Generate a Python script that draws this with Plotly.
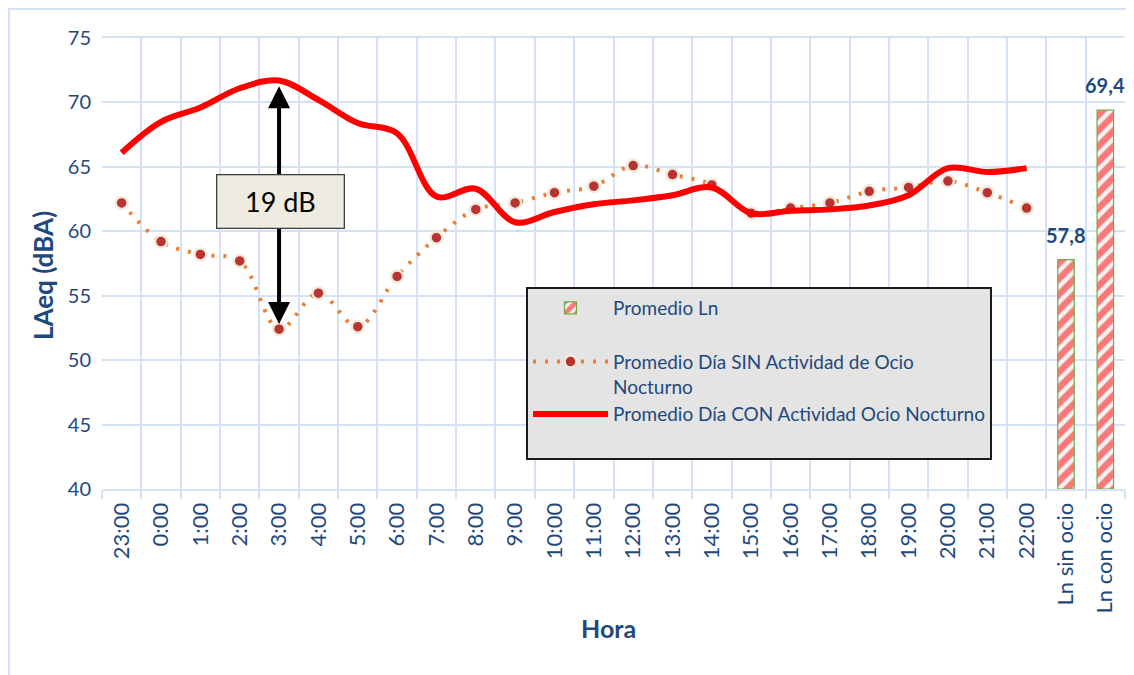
import plotly.graph_objects as go

hours = ["23:00", "0:00", "1:00", "2:00", "3:00", "4:00", "5:00", "6:00", "7:00", "8:00",
         "9:00", "10:00", "11:00", "12:00", "13:00", "14:00", "15:00", "16:00", "17:00",
         "18:00", "19:00", "20:00", "21:00", "22:00"]
ln_categories = ["Ln sin ocio", "Ln con ocio"]
ln_values = [57.8, 69.4]
sin_ocio = [62.2, 59.2, 58.2, 57.7, 52.4, 55.2, 52.6, 56.5, 59.5, 61.7, 62.2, 63.0,
            63.5, 65.1, 64.4, 63.6, 61.4, 61.8, 62.2, 63.1, 63.4, 63.9, 63.0, 61.8]
con_ocio = [66.1, 68.5, 69.6, 71.1, 71.7, 70.2, 68.4, 67.6, 62.7, 63.3, 60.7, 61.5,
            62.1, 62.4, 62.8, 63.4, 61.4, 61.6, 61.7, 62.0, 62.8, 64.9, 64.6, 64.9]
y_ticks = [40, 45, 50, 55, 60, 65, 70, 75]
diff_label = "19 dB"

DARK = "#1f497d"
GRID = "#d5e2f5"
FONT = "Lato"

all_cats = hours + ln_categories

# the page adds an 8 px body margin; size the figure so the plot area lands where it should
W, H = 1126, 667
ML, MR, MT, MB = 94, 9, 30, 186
PW = W - ML - MR
PH = H - MT - MB


def px_x(page_x):
    return (page_x - 8 - ML) / PW


def px_y(page_y):
    return (H - MB - (page_y - 8)) / PH


fig = go.Figure()

fig.add_trace(go.Bar(
    x=ln_categories, y=[v - 40 for v in ln_values], base=40,
    name="Promedio Ln", width=0.42,
    marker=dict(color="#f2f2f2",
                pattern=dict(shape="/", fgcolor="#ff0000", bgcolor="#f2f2f2",
                             size=11, solidity=0.6),
                line=dict(color="#70ad47", width=1.2)),
    legendgroup="a",
))

# value labels above the bars
for cat, val in zip(ln_categories, ln_values):
    fig.add_annotation(x=cat, y=val, xref="x", yref="y",
                       text="<b>" + f"{val:.1f}".replace(".", ",") + "</b>",
                       showarrow=False, yanchor="bottom", yshift=11,
                       font=dict(family=FONT, size=20, color=DARK))

fig.add_trace(go.Scatter(
    x=hours, y=sin_ocio, mode="lines+markers",
    name="Promedio Día SIN Actividad de Ocio<br>Nocturno",
    line=dict(color="#ed7d31", width=4, dash="3px,9px", shape="spline"),
    marker=dict(size=12, color="#b93333", line=dict(color="#efeadb", width=2.5)),
    legendgroup="b",
))

fig.add_trace(go.Scatter(
    x=hours, y=con_ocio, mode="lines",
    name="Promedio Día CON Actividad Ocio Nocturno<br> ",
    line=dict(color="#ff0000", width=6, shape="spline"),
    legendgroup="b",
))

# double arrow with label box
ix = hours.index("3:00")
fig.add_annotation(x=ix, y=71.25, ax=ix, ay=63.5, xref="x", yref="y", axref="x", ayref="y",
                   showarrow=True, arrowhead=2, arrowsize=1.1, arrowwidth=4,
                   arrowcolor="#000000", text="")
fig.add_annotation(x=ix, y=52.8, ax=ix, ay=61, xref="x", yref="y", axref="x", ayref="y",
                   showarrow=True, arrowhead=2, arrowsize=1.1, arrowwidth=4,
                   arrowcolor="#000000", text="")
fig.add_annotation(x=ix + 0.04, y=62.3, xref="x", yref="y", text=diff_label, showarrow=False,
                   font=dict(family=FONT, size=27, color="#000000"),
                   bgcolor="#eeece1", bordercolor="#404040", borderwidth=1.3,
                   width=124, height=50)

# axis titles
fig.add_annotation(x=px_x(43), y=px_y(276), xref="paper", yref="paper", text="<b>LAeq (dBA)</b>",
                   textangle=-90, showarrow=False, xanchor="center", yanchor="middle",
                   font=dict(family=FONT, size=26, color=DARK))
fig.add_annotation(x=px_x(608), y=px_y(628), xref="paper", yref="paper", text="<b>Hora</b>",
                   showarrow=False, xanchor="center", yanchor="middle",
                   font=dict(family=FONT, size=25, color=DARK))

# outer chart border (left and top edges are visible)
fig.add_shape(type="rect", xref="paper", yref="paper", x0=px_x(9), x1=px_x(1150),
              y0=px_y(700), y1=px_y(9),
              line=dict(color="#d5e2f5", width=2), fillcolor="rgba(0,0,0,0)", layer="below")

fig.update_layout(
    width=W, height=H,
    margin=dict(l=ML, r=MR, t=MT, b=MB, autoexpand=False),
    paper_bgcolor="white", plot_bgcolor="white",
    font=dict(family=FONT, color=DARK),
    separators=",.",
    showlegend=True,
    legend=dict(x=px_x(526), y=px_y(287), xanchor="left", yanchor="top",
                bgcolor="#e4e4e4", bordercolor="#1a1a1a", borderwidth=2,
                font=dict(family=FONT, size=19, color=DARK),
                itemwidth=75, traceorder="grouped", tracegroupgap=26, valign="top"),
    xaxis=dict(type="category", categoryorder="array", categoryarray=all_cats,
               tickson="boundaries", showgrid=True, gridcolor=GRID, gridwidth=2,
               ticks="outside", ticklen=8, tickcolor=GRID, tickwidth=2,
               tickangle=-90, tickfont=dict(family=FONT, size=22, color=DARK),
               ticklabelstandoff=3,
               showline=True, linecolor=GRID, linewidth=2, mirror=True, zeroline=False,
               range=[-0.5, len(all_cats) - 0.5], automargin=False),
    yaxis=dict(range=[40, 75], tickvals=y_ticks, showgrid=True, gridcolor=GRID, gridwidth=2,
               tickfont=dict(family=FONT, size=20, color=DARK), ticks="",
               ticklabelstandoff=10,
               zeroline=False, showline=False, automargin=False),
)

fig.write_html("out.html")
